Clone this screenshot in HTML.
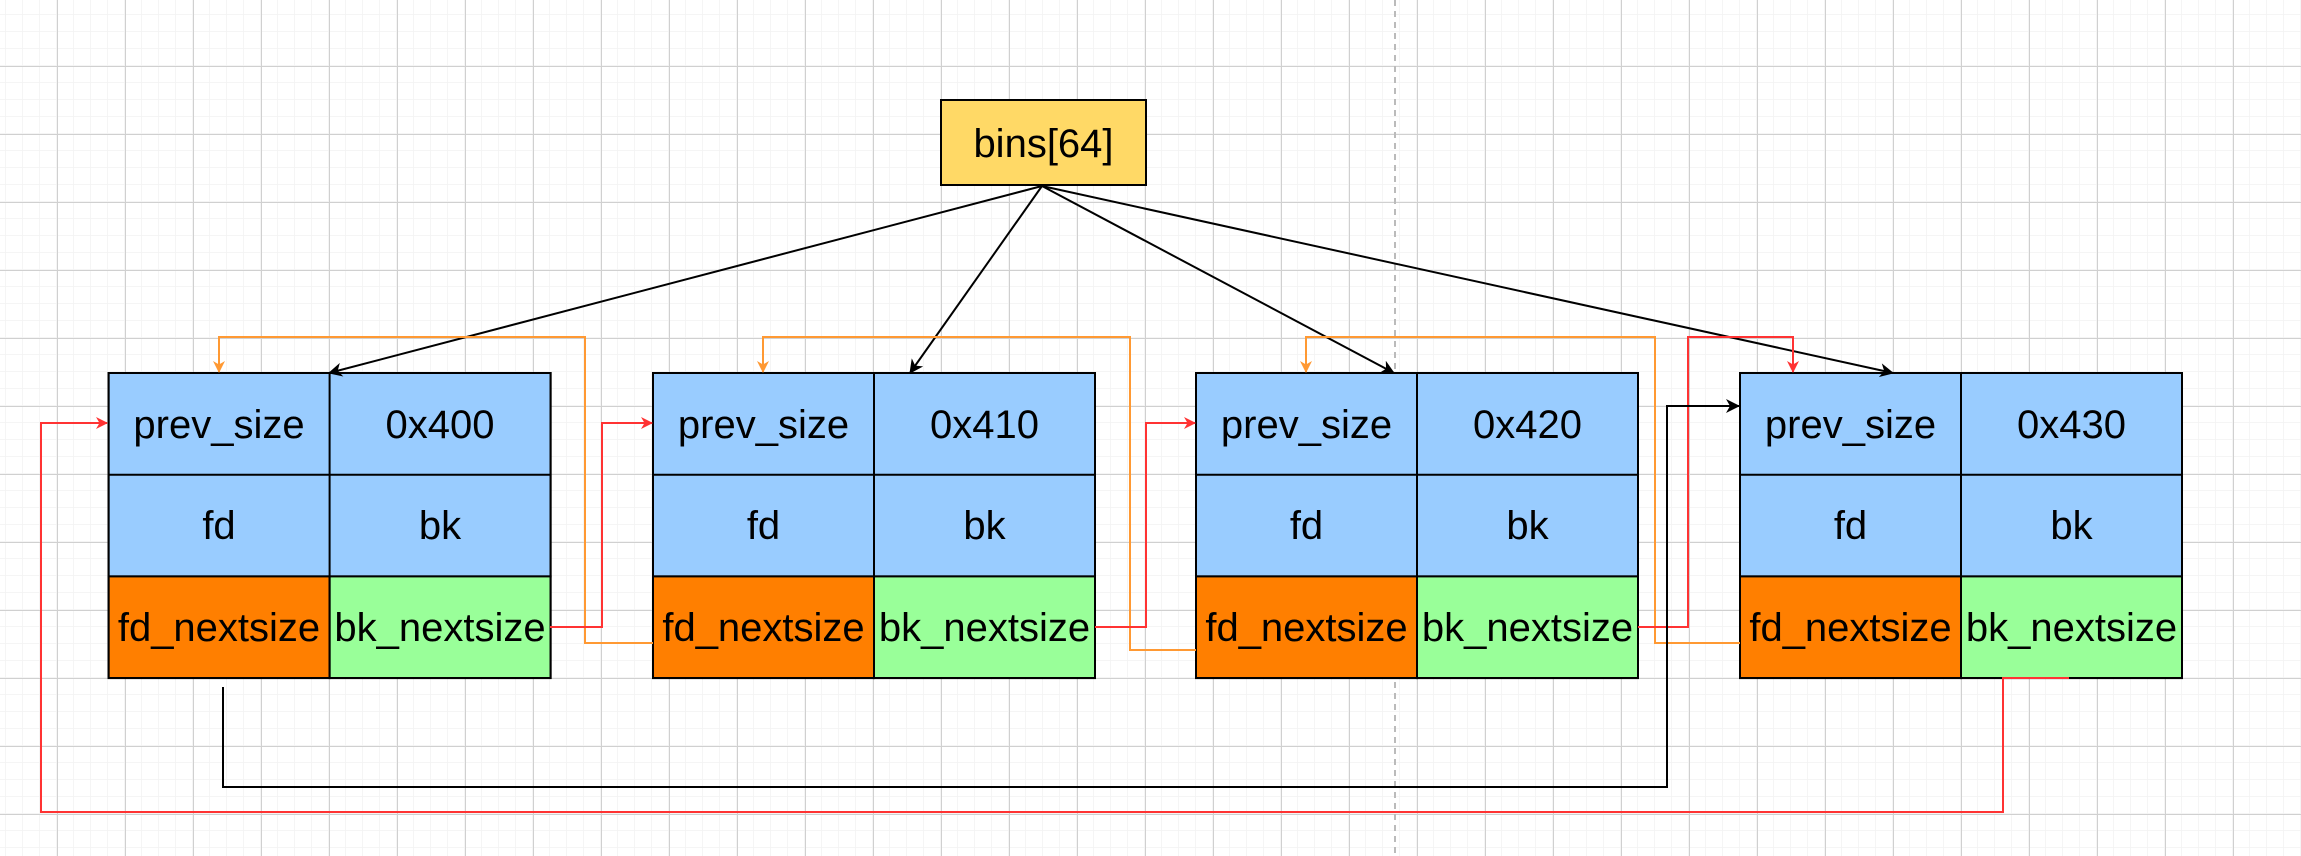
<!DOCTYPE html>
<html><head><meta charset="utf-8"><style>
html,body{margin:0;padding:0;background:#fff;}
svg{display:block;}
text{font-family:"Liberation Sans",sans-serif;font-size:40px;fill:#000;}
</style></head><body>
<svg width="2301" height="856" viewBox="0 0 2301 856" xmlns="http://www.w3.org/2000/svg">
<defs>
<pattern id="minor" x="6" y="15" width="17" height="17" patternUnits="userSpaceOnUse">
<path d="M17 0V17M0 17H17" stroke="#f2f2f2" stroke-width="1.5" fill="none"/>
</pattern>
<pattern id="major" x="57" y="66" width="68" height="68" patternUnits="userSpaceOnUse">
<path d="M0.5 0V68M0 0.5H68" stroke="#d0d0d0" stroke-width="1" fill="none"/>
</pattern>
<marker id="ao" markerWidth="12" markerHeight="12" refX="11" refY="6" orient="auto" markerUnits="userSpaceOnUse"><path d="M0 0L12 6L0 12L3.5 6Z" fill="#ff9933"/></marker>
<marker id="ar" markerWidth="12" markerHeight="12" refX="11" refY="6" orient="auto" markerUnits="userSpaceOnUse"><path d="M0 0L12 6L0 12L3.5 6Z" fill="#ff3333"/></marker>
<marker id="ab2" markerWidth="14" markerHeight="14" refX="13" refY="7" orient="auto" markerUnits="userSpaceOnUse"><path d="M0 0L14 7L0 14L4 7Z" fill="#000"/></marker>
</defs>
<rect width="2301" height="856" fill="url(#minor)"/>
<rect width="2301" height="856" fill="url(#major)"/>
<line x1="1395" y1="0" x2="1395" y2="856" stroke="#bbb" stroke-width="2" stroke-dasharray="6 5"/>

<rect x="941" y="100" width="205" height="85" fill="#ffd966" stroke="#000" stroke-width="2"/>
<text x="1043.5" y="157" text-anchor="middle">bins[64]</text>

<g stroke="#000" stroke-width="2">
<g transform="translate(108.6,373)">
<rect x="0" y="0" width="442" height="203.4" fill="#99ccff"/>
<rect x="0" y="203.4" width="221" height="101.7" fill="#ff7f00"/>
<rect x="221" y="203.4" width="221" height="101.7" fill="#99ff99"/>
<path d="M221 0V305M0 101.7H442" fill="none"/>
<rect x="0" y="0" width="442" height="305" fill="none"/>
</g>
<g transform="translate(653,373)">
<rect x="0" y="0" width="442" height="203.4" fill="#99ccff"/>
<rect x="0" y="203.4" width="221" height="101.7" fill="#ff7f00"/>
<rect x="221" y="203.4" width="221" height="101.7" fill="#99ff99"/>
<path d="M221 0V305M0 101.7H442" fill="none"/>
<rect x="0" y="0" width="442" height="305" fill="none"/>
</g>
<g transform="translate(1196,373)">
<rect x="0" y="0" width="442" height="203.4" fill="#99ccff"/>
<rect x="0" y="203.4" width="221" height="101.7" fill="#ff7f00"/>
<rect x="221" y="203.4" width="221" height="101.7" fill="#99ff99"/>
<path d="M221 0V305M0 101.7H442" fill="none"/>
<rect x="0" y="0" width="442" height="305" fill="none"/>
</g>
<g transform="translate(1740,373)">
<rect x="0" y="0" width="442" height="203.4" fill="#99ccff"/>
<rect x="0" y="203.4" width="221" height="101.7" fill="#ff7f00"/>
<rect x="221" y="203.4" width="221" height="101.7" fill="#99ff99"/>
<path d="M221 0V305M0 101.7H442" fill="none"/>
<rect x="0" y="0" width="442" height="305" fill="none"/>
</g>
</g>

<g text-anchor="middle">
<text x="219" y="438">prev_size</text><text x="440" y="438">0x400</text>
<text x="219" y="539">fd</text><text x="440" y="539">bk</text>
<text x="219" y="641">fd_nextsize</text><text x="440" y="641">bk_nextsize</text>

<text x="763.5" y="438">prev_size</text><text x="984.5" y="438">0x410</text>
<text x="763.5" y="539">fd</text><text x="984.5" y="539">bk</text>
<text x="763.5" y="641">fd_nextsize</text><text x="984.5" y="641">bk_nextsize</text>

<text x="1306.5" y="438">prev_size</text><text x="1527.5" y="438">0x420</text>
<text x="1306.5" y="539">fd</text><text x="1527.5" y="539">bk</text>
<text x="1306.5" y="641">fd_nextsize</text><text x="1527.5" y="641">bk_nextsize</text>

<text x="1850.5" y="438">prev_size</text><text x="2071.5" y="438">0x430</text>
<text x="1850.5" y="539">fd</text><text x="2071.5" y="539">bk</text>
<text x="1850.5" y="641">fd_nextsize</text><text x="2071.5" y="641">bk_nextsize</text>
</g>

<g stroke="#000" stroke-width="2" fill="none">
<line x1="1042" y1="186" x2="329" y2="373" marker-end="url(#ab2)"/>
<line x1="1042" y1="186" x2="910" y2="373" marker-end="url(#ab2)"/>
<line x1="1042" y1="186" x2="1394" y2="373" marker-end="url(#ab2)"/>
<line x1="1042" y1="186" x2="1893" y2="373" marker-end="url(#ab2)"/>
</g>

<g stroke="#ff9933" stroke-width="2" fill="none">
<polyline points="653,643 585,643 585,337 219,337 219,372" marker-end="url(#ao)"/>
<polyline points="1196,650 1130,650 1130,337 763,337 763,372" marker-end="url(#ao)"/>
<polyline points="1740,643 1655,643 1655,337 1306,337 1306,372" marker-end="url(#ao)"/>
</g>

<g stroke="#ff3333" stroke-width="2" fill="none">
<polyline points="550,627 602,627 602,423 652,423" marker-end="url(#ar)"/>
<polyline points="1095,627 1146,627 1146,423 1195,423" marker-end="url(#ar)"/>
<polyline points="1638,627 1688,627 1688,337 1793,337 1793,372" marker-end="url(#ar)"/>
<polyline points="2069,678 2003,678 2003,812 41,812 41,423 107,423" marker-end="url(#ar)"/>
</g>

<polyline points="223,687 223,787 1667,787 1667,406 1739,406" stroke="#000" stroke-width="2" fill="none" marker-end="url(#ab2)"/>
</svg>
</body></html>
